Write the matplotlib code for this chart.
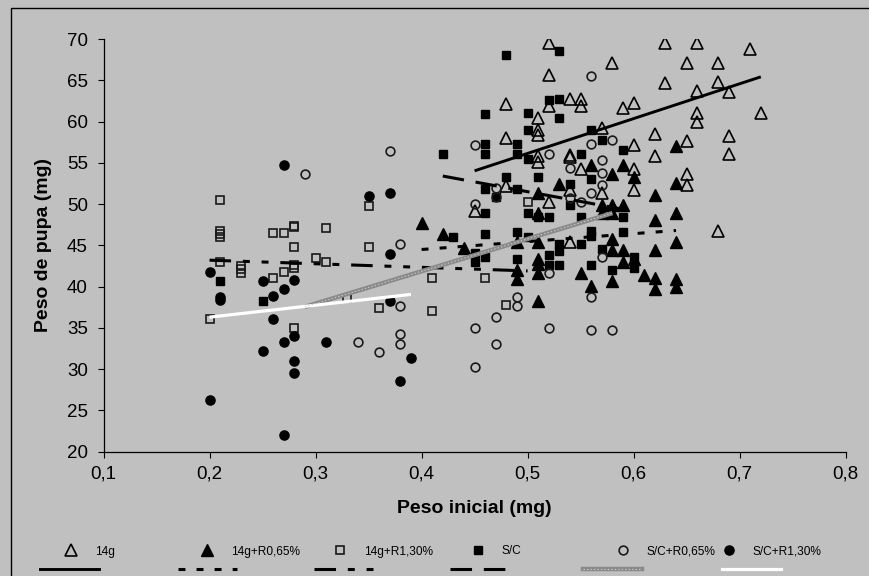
import numpy as np
import matplotlib
matplotlib.use('Agg')
import matplotlib.pyplot as plt
from matplotlib.lines import Line2D
from matplotlib.patches import Rectangle
from matplotlib.ticker import FuncFormatter, MultipleLocator

plt.rcParams['font.family'] = ['Liberation Sans', 'DejaVu Sans']
plt.rcParams['lines.scale_dashes'] = False

# series names as in the legend
names = ['14g', '14g+R0,65%', '14g+R1,30%', 'S/C', 'S/C+R0,65%', 'S/C+R1,30%']

# (peso inicial, peso de pupa)
pts_14g = [(0.52, 69.5), (0.63, 69.5), (0.66, 69.5), (0.71, 68.8), (0.58, 67.1), (0.65, 67.1),
           (0.68, 67.1), (0.52, 65.6), (0.63, 64.7), (0.68, 64.8), (0.66, 63.7), (0.69, 63.6),
           (0.54, 62.8), (0.55, 62.8), (0.52, 61.9), (0.55, 61.9), (0.48, 62.2), (0.59, 61.7),
           (0.60, 62.3), (0.66, 61.0), (0.66, 60.0), (0.72, 61.0), (0.51, 60.5), (0.51, 59.0),
           (0.51, 58.4), (0.48, 58.0), (0.57, 59.2), (0.62, 58.5), (0.65, 57.7), (0.69, 58.3),
           (0.69, 56.1), (0.62, 55.8), (0.60, 57.2), (0.51, 55.8), (0.51, 55.1), (0.54, 55.9),
           (0.54, 55.7), (0.55, 54.2), (0.60, 54.2), (0.65, 53.6), (0.65, 52.3), (0.60, 51.7),
           (0.57, 51.3), (0.52, 50.2), (0.48, 52.2), (0.45, 49.2), (0.68, 46.8), (0.54, 45.4),
           (0.54, 51.7)]

pts_14g_r065 = [(0.40, 47.7), (0.42, 46.4), (0.44, 44.7), (0.49, 45.4), (0.49, 42.0), (0.49, 40.9),
                (0.51, 51.4), (0.51, 48.9), (0.51, 45.4), (0.51, 43.3), (0.51, 42.8), (0.51, 41.7),
                (0.51, 38.2), (0.53, 52.4), (0.55, 41.7), (0.56, 54.8), (0.56, 40.1), (0.57, 49.9),
                (0.57, 48.9), (0.58, 49.9), (0.58, 48.9), (0.58, 53.7), (0.58, 45.8), (0.58, 44.5),
                (0.58, 40.7), (0.59, 49.9), (0.59, 54.7), (0.59, 44.5), (0.59, 43.0), (0.60, 53.3),
                (0.60, 43.3), (0.61, 41.4), (0.62, 51.1), (0.62, 48.1), (0.62, 44.5), (0.62, 41.0),
                (0.62, 39.7), (0.64, 57.0), (0.64, 52.6), (0.64, 48.9), (0.64, 45.4), (0.64, 40.9),
                (0.64, 40.0)]

pts_14g_r130 = [(0.20, 36.1), (0.21, 50.5), (0.21, 46.8), (0.21, 46.4), (0.21, 46.0), (0.21, 43.0),
                (0.23, 42.5), (0.23, 42.1), (0.23, 41.7), (0.26, 46.5), (0.27, 46.5), (0.26, 41.0),
                (0.27, 41.8), (0.28, 47.4), (0.28, 47.2), (0.28, 44.8), (0.28, 42.6), (0.28, 42.2),
                (0.28, 35.0), (0.30, 43.5), (0.31, 47.1), (0.31, 43.0), (0.33, 38.6), (0.35, 49.8),
                (0.35, 44.8), (0.36, 37.4), (0.41, 41.1), (0.41, 37.0), (0.46, 41.0), (0.48, 37.8),
                (0.50, 50.2)]

pts_sc = [(0.48, 68.1), (0.53, 68.6), (0.46, 60.9), (0.50, 61.1), (0.52, 62.6), (0.53, 62.8),
          (0.53, 60.4), (0.50, 59.0), (0.46, 57.3), (0.46, 56.1), (0.42, 56.1), (0.49, 57.3),
          (0.49, 56.1), (0.50, 55.5), (0.48, 53.3), (0.51, 53.3), (0.46, 51.8), (0.49, 51.8),
          (0.47, 50.9), (0.54, 52.5), (0.55, 56.1), (0.56, 59.0), (0.57, 57.8), (0.59, 56.6),
          (0.56, 53.1), (0.46, 48.9), (0.50, 48.9), (0.52, 48.5), (0.55, 48.5), (0.59, 48.5),
          (0.54, 49.9), (0.51, 48.5), (0.43, 46.0), (0.46, 46.4), (0.49, 46.6), (0.50, 46.0),
          (0.45, 44.1), (0.45, 43.0), (0.46, 43.6), (0.49, 43.4), (0.52, 43.8), (0.52, 42.6),
          (0.53, 45.2), (0.53, 44.3), (0.53, 42.6), (0.55, 45.2), (0.56, 46.8), (0.56, 46.1),
          (0.56, 42.6), (0.57, 44.6), (0.58, 42.0), (0.59, 46.6), (0.60, 43.6), (0.60, 42.3),
          (0.21, 40.7), (0.25, 38.2)]

pts_sc_r065 = [(0.29, 53.6), (0.37, 56.4), (0.38, 45.2), (0.38, 37.7), (0.38, 34.3), (0.38, 33.0),
               (0.36, 32.1), (0.34, 33.3), (0.45, 50.0), (0.49, 38.8), (0.49, 37.6), (0.47, 36.3),
               (0.45, 35.0), (0.52, 35.0), (0.52, 41.7), (0.54, 50.7), (0.47, 33.0), (0.45, 30.2),
               (0.56, 38.8), (0.56, 34.7), (0.58, 34.8), (0.57, 43.6), (0.56, 51.3), (0.45, 57.2),
               (0.52, 56.1), (0.56, 65.5), (0.56, 57.3), (0.58, 57.8), (0.54, 54.4), (0.57, 55.3),
               (0.57, 53.8), (0.57, 52.3), (0.55, 50.2), (0.47, 52.0), (0.47, 50.9)]

pts_sc_r130 = [(0.27, 54.7), (0.35, 51.0), (0.37, 51.4), (0.20, 41.8), (0.25, 40.7), (0.28, 40.8),
               (0.27, 39.7), (0.26, 38.9), (0.21, 38.8), (0.21, 38.4), (0.26, 36.1), (0.28, 34.0),
               (0.27, 33.3), (0.25, 32.2), (0.31, 33.3), (0.28, 31.0), (0.28, 29.5), (0.20, 26.2),
               (0.27, 22.0), (0.37, 44.0), (0.37, 38.3), (0.39, 31.3), (0.38, 28.5)]

# linear trend lines (slope, intercept, x range)
trend_slope = [42.2, 9.6, -4.33, -23.7, 39.2, 14.5]
trend_intercept = [35.05, 40.66, 44.07, 63.36, 26.18, 33.4]
trend_from = [0.45, 0.40, 0.20, 0.42, 0.29, 0.20]
trend_to = [0.72, 0.64, 0.50, 0.59, 0.58, 0.39]

x_ticks = [0.1, 0.2, 0.3, 0.4, 0.5, 0.6, 0.7, 0.8]

all_pts = [pts_14g, pts_14g_r065, pts_14g_r130, pts_sc, pts_sc_r065, pts_sc_r130]

bg = '#c0c0c0'
marker_styles = [
    dict(marker='^', mfc='none', mec='black', ms=8, mew=1.2),
    dict(marker='^', mfc='black', mec='black', ms=8, mew=1),
    dict(marker='s', mfc='none', mec='#1a1a1a', ms=6.2, mew=1.2),
    dict(marker='s', mfc='black', mec='black', ms=6.2, mew=1),
    dict(marker='o', mfc='none', mec='#1a1a1a', ms=6.3, mew=1.2),
    dict(marker='o', mfc='black', mec='black', ms=6.6, mew=1),
]
line_styles = [
    dict(color='black', lw=2.1, ls='-'),
    dict(color='black', lw=2.2, dashes=(5, 8)),
    dict(color='black', lw=2.2, dashes=(15.5, 8.5, 5, 8.5, 5, 8.5)),
    dict(color='black', lw=2.2, dashes=(15.5, 8.5)),
    dict(color='#8a8a8a', lw=3.2, ls='-'),
    dict(color='white', lw=2.3, ls='-'),
]

fig = plt.figure(figsize=(8.7, 5.76), dpi=100, facecolor=bg)
ax = fig.add_axes([0.119, 0.216, 0.853, 0.716], facecolor=bg)

for pts, st in zip(all_pts, marker_styles):
    xy = np.array(pts)
    ax.plot(xy[:, 0], xy[:, 1], ls='none', zorder=3, **st)

for i in range(6):
    xs = np.array([trend_from[i], trend_to[i]])
    ys = trend_slope[i] * xs + trend_intercept[i]
    ax.plot(xs, ys, zorder=4, solid_capstyle='butt', dash_capstyle='butt', **line_styles[i])
    if i == 4:
        # lighter hatch on top of the grey line
        ax.plot(xs, ys, color='#c8c8c8', lw=0.8, dashes=(1, 1.5), zorder=5)

ax.set_xlim(0.1, 0.8)
ax.set_ylim(20, 70)
ax.set_xticks(x_ticks)
ax.yaxis.set_major_locator(MultipleLocator(5))
ax.xaxis.set_major_formatter(FuncFormatter(lambda v, p: ('%.1f' % v).replace('.', ',')))
ax.spines['top'].set_visible(False)
ax.spines['right'].set_visible(False)
ax.spines['left'].set_linewidth(0.9)
ax.spines['bottom'].set_linewidth(0.9)
ax.tick_params(axis='both', direction='out', length=4.3, width=0.8, labelsize=13.5)
ax.tick_params(axis='y', pad=7)
ax.tick_params(axis='x', pad=6)

ax.set_xlabel('Peso inicial (mg)', fontsize=14, fontweight='bold')
ax.set_ylabel('Peso de pupa (mg)', fontsize=14, fontweight='bold')
ax.xaxis.set_label_coords(0.5, (451.5 - 508) / 412.5)
ax.xaxis.label.set_va('center')
ax.yaxis.set_label_coords((43 - 103.5) / 742, 0.5)
ax.yaxis.label.set_va('center')

# legend: markers in one row, trend lines underneath
W, H = 870.0, 576.0
marker_x = [71, 207, 340, 478, 623, 729]
line_x = [40, 178, 314, 450, 583, 722]
for i in range(6):
    h = Line2D([], [], ls='none', **marker_styles[i])
    fig.legend([h], [names[i]], loc='center left', bbox_to_anchor=((marker_x[i] - 6) / W, 1 - 551.5 / H),
               frameon=False, fontsize=8.6, handlelength=1.0, handletextpad=1.5, borderpad=0,
               borderaxespad=0, numpoints=1)
    lh = Line2D([], [], **line_styles[i])
    if i == 4:
        lh = (lh, Line2D([], [], color='#c8c8c8', lw=0.8, dashes=(1, 1.5)))
    fig.legend([lh], [''], loc='center left', bbox_to_anchor=(line_x[i] / W, 1 - 570 / H),
               frameon=False, fontsize=8.6, handlelength=4.9, handletextpad=0, borderpad=0,
               borderaxespad=0)

# thin frame round the chart area
fig.add_artist(Rectangle((11 / W, -0.05), 1.2, 1 - 8 / H + 0.05, transform=fig.transFigure,
                         fill=False, lw=1, ec='black'))

fig.savefig('out.png', dpi=100, facecolor=bg)
